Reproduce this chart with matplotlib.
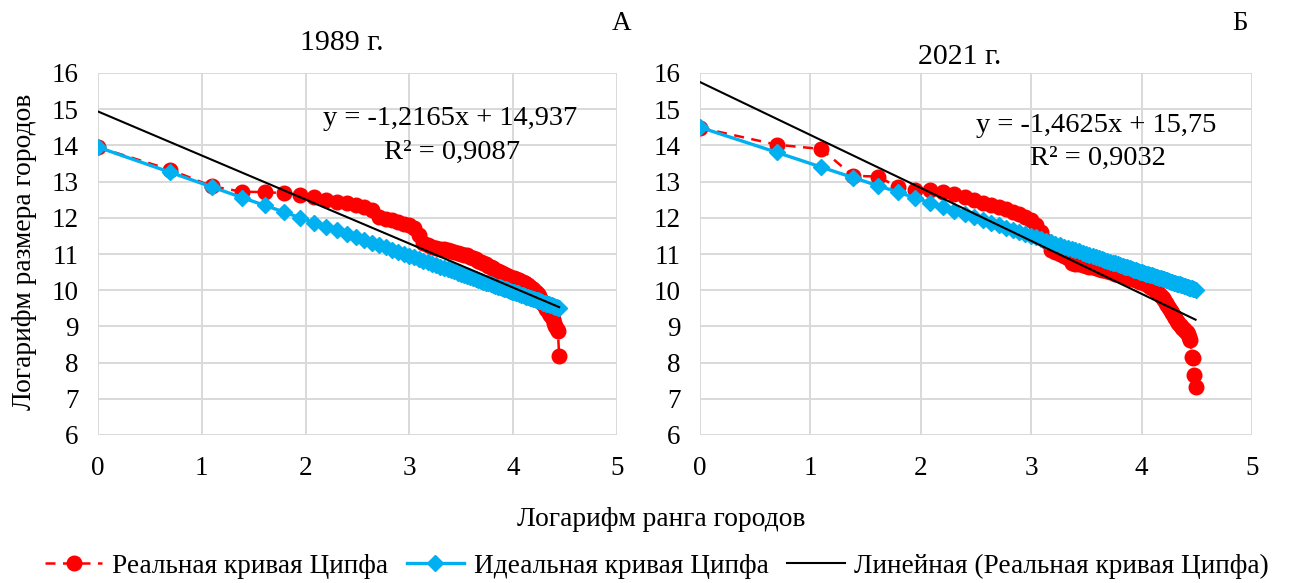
import numpy as np
import matplotlib
matplotlib.use("Agg")
import matplotlib.pyplot as plt
from matplotlib.lines import Line2D

plt.rcParams['font.family'] = ['Liberation Serif', 'DejaVu Serif']

# ---- data ----
ranks_1989 = list(range(1, 86))
real_1989 = [13.95, 13.33, 12.87, 12.72, 12.71, 12.68, 12.63, 12.57, 12.50, 12.45,
             12.41, 12.36, 12.31, 12.22, 12.02, 11.98, 11.93, 11.89, 11.84, 11.79,
             11.71, 11.52, 11.30, 11.24, 11.20, 11.17, 11.15, 11.13, 11.11, 11.09,
             11.06, 11.03, 11.01, 10.98, 10.96, 10.93, 10.90, 10.86, 10.82, 10.79,
             10.75, 10.71, 10.67, 10.63, 10.60, 10.57, 10.54, 10.51, 10.48, 10.45,
             10.42, 10.40, 10.37, 10.35, 10.33, 10.31, 10.29, 10.27, 10.24, 10.22,
             10.20, 10.17, 10.14, 10.10, 10.07, 10.03, 9.99, 9.94, 9.89, 9.83,
             9.77, 9.70, 9.63, 9.56, 9.48, 9.42, 9.37, 9.32, 9.27, 9.20,
             9.10, 9.00, 8.93, 8.88, 8.17]
ideal_1989 = [13.95, 13.26, 12.85, 12.56, 12.34, 12.16, 12.00, 11.87, 11.75, 11.65,
              11.55, 11.46, 11.38, 11.31, 11.24, 11.18, 11.12, 11.06, 11.01, 10.95,
              10.91, 10.86, 10.81, 10.77, 10.73, 10.69, 10.65, 10.62, 10.58, 10.55,
              10.52, 10.48, 10.45, 10.42, 10.39, 10.37, 10.34, 10.31, 10.29, 10.26,
              10.24, 10.21, 10.19, 10.17, 10.14, 10.12, 10.10, 10.08, 10.06, 10.04,
              10.02, 10.00, 9.98, 9.96, 9.94, 9.92, 9.91, 9.89, 9.87, 9.86,
              9.84, 9.82, 9.81, 9.79, 9.78, 9.76, 9.75, 9.73, 9.72, 9.70,
              9.69, 9.67, 9.66, 9.65, 9.63, 9.62, 9.61, 9.59, 9.58, 9.57,
              9.56, 9.54, 9.53, 9.52, 9.51]
trend_1989 = (-1.2165, 14.937)
eq_1989 = ['y = -1,2165x + 14,937', 'R² = 0,9087']

ranks_2021 = list(range(1, 90))
real_2021 = [14.49, 14.02, 13.90, 13.16, 13.14, 12.85, 12.77, 12.76, 12.72, 12.65,
             12.57, 12.49, 12.41, 12.36, 12.31, 12.25, 12.17, 12.10, 12.02, 11.93,
             11.80, 11.62, 11.35, 11.12, 11.05, 10.99, 10.94, 10.88, 10.76, 10.73,
             10.71, 10.69, 10.67, 10.65, 10.63, 10.61, 10.59, 10.57, 10.55, 10.53,
             10.51, 10.49, 10.46, 10.44, 10.42, 10.40, 10.38, 10.36, 10.34, 10.32,
             10.30, 10.28, 10.26, 10.24, 10.22, 10.19, 10.16, 10.13, 10.10, 10.07,
             10.03, 9.99, 9.94, 9.89, 9.84, 9.78, 9.72, 9.65, 9.58, 9.50,
             9.43, 9.36, 9.29, 9.22, 9.16, 9.10, 9.05, 9.00, 8.96, 8.92,
             8.88, 8.84, 8.78, 8.70, 8.62, 8.15, 8.12, 7.67, 7.32]
ideal_2021 = [14.50, 13.81, 13.40, 13.11, 12.89, 12.71, 12.55, 12.42, 12.30, 12.20,
              12.10, 12.02, 11.94, 11.86, 11.79, 11.73, 11.67, 11.61, 11.56, 11.50,
              11.46, 11.41, 11.37, 11.32, 11.28, 11.24, 11.20, 11.17, 11.13, 11.10,
              11.07, 11.03, 11.00, 10.97, 10.95, 10.92, 10.89, 10.86, 10.84, 10.81,
              10.79, 10.76, 10.74, 10.72, 10.69, 10.67, 10.65, 10.63, 10.61, 10.59,
              10.57, 10.55, 10.53, 10.51, 10.49, 10.48, 10.46, 10.44, 10.42, 10.41,
              10.39, 10.37, 10.36, 10.34, 10.33, 10.31, 10.30, 10.28, 10.27, 10.25,
              10.24, 10.22, 10.21, 10.20, 10.18, 10.17, 10.16, 10.14, 10.13, 10.12,
              10.11, 10.09, 10.08, 10.07, 10.06, 10.05, 10.03, 10.02, 10.01]
trend_2021 = (-1.4625, 15.75)
eq_2021 = ['y = -1,4625x + 15,75', 'R² = 0,9032']

RED = '#FF0000'
BLUE = '#00B0F0'
GRID = '#D9D9D9'
W, H = 1294, 583

fig = plt.figure(figsize=(W / 100, H / 100), dpi=100)


def box(x0, x1, y0, y1):
    # pixel box -> figure fraction rect
    return [x0 / W, 1 - y1 / H, (x1 - x0) / W, (y1 - y0) / H]


def panel(ax, ranks, real, ideal, trend, eq, eq_pos):
    x = np.log(ranks)
    ax.plot(x, real, ls=(0, (4, 3)), color=RED, lw=1.8, marker='o', ms=10.5,
            mec=RED, mfc=RED, zorder=3)
    ax.plot(x, ideal, ls='-', color=BLUE, lw=2.4, marker='D', ms=8,
            mec=BLUE, mfc=BLUE, zorder=4)
    k, b = trend
    xt = np.array([x[0], x[-1]])
    ax.plot(xt, k * xt + b, color='black', lw=1.5, zorder=5)
    ax.set_xlim(0, 5)
    ax.set_ylim(6, 16)
    ax.set_xticks(range(0, 6))
    ax.set_yticks(range(6, 17))
    ax.grid(True, color=GRID, lw=1.4)
    ax.set_axisbelow(True)
    for s in ax.spines.values():
        s.set_visible(False)
    ax.tick_params(length=0, labelsize=19.5)
    ax.tick_params(axis='y', pad=14)
    ax.tick_params(axis='x', pad=15)
    ax.text(eq_pos[0], eq_pos[1], eq[0], ha='center', va='center', fontsize=20.5)
    ax.text(eq_pos[2], eq_pos[3], eq[1], ha='center', va='center', fontsize=20.5)


ax1 = fig.add_axes(box(98, 617, 73, 435))
panel(ax1, ranks_1989, real_1989, ideal_1989, trend_1989, eq_1989,
      (3.39, 14.74, 3.41, 13.81))
ax2 = fig.add_axes(box(700, 1252, 73, 435))
panel(ax2, ranks_2021, real_2021, ideal_2021, trend_2021, eq_2021,
      (3.59, 14.55, 3.60, 13.64))

fig.text(342 / W, 1 - 43 / H, '1989 г.', ha='center', va='center', fontsize=21.5)
fig.text(960 / W, 1 - 57 / H, '2021 г.', ha='center', va='center', fontsize=21.5)
fig.text(622 / W, 1 - 24 / H, 'А', ha='center', va='center', fontsize=19.5)
fig.text(1240 / W, 1 - 24 / H, 'Б', ha='center', va='center', fontsize=19.5)

fig.text(25 / W, 1 - 252 / H, 'Логарифм размера городов', rotation=90,
         ha='center', va='center', fontsize=19.8)
fig.text(661 / W, 1 - 520 / H, 'Логарифм ранга городов', ha='center', va='center', fontsize=19.8)

handles = [
    Line2D([], [], ls=(0, (4, 3)), color=RED, lw=1.8, marker='o', ms=10.5),
    Line2D([], [], ls='-', color=BLUE, lw=2.4, marker='D', ms=8),
    Line2D([], [], ls='-', color='black', lw=1.5),
]
labels = ['Реальная кривая Ципфа', 'Идеальная кривая Ципфа',
          'Линейная (Реальная кривая Ципфа)']
fig.legend(handles, labels, loc='center', bbox_to_anchor=(657 / W, 1 - 566 / H),
           ncol=3, frameon=False, fontsize=19.6, handlelength=2.1,
           handletextpad=0.35, columnspacing=0.7, borderpad=0, borderaxespad=0)

fig.savefig('out.png', dpi=100)
